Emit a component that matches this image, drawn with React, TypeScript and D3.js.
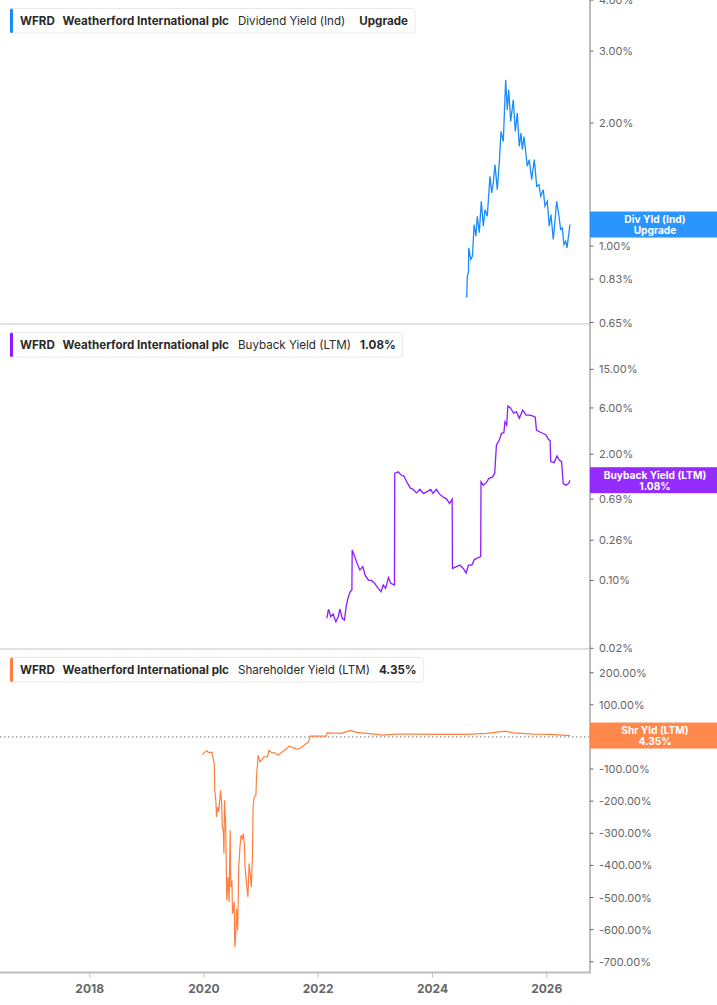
import React, { useLayoutEffect, useRef, useState } from "react";
import * as d3 from "d3";

// ---------- DATA ----------
const yearTicks = [2018, 2020, 2022, 2024, 2026];

const divDates = [2024.60, 2024.61, 2024.63, 2024.635, 2024.67, 2024.70, 2024.73, 2024.76, 2024.785, 2024.82, 2024.855, 2024.89, 2024.92, 2024.96, 2025.007, 2025.037, 2025.065, 2025.095, 2025.135, 2025.17, 2025.20, 2025.24, 2025.282, 2025.31, 2025.335, 2025.37, 2025.415, 2025.45, 2025.485, 2025.52, 2025.55, 2025.573, 2025.603, 2025.66, 2025.695, 2025.737, 2025.783, 2025.825, 2025.865, 2025.895, 2025.94, 2025.97, 2026.01, 2026.045, 2026.075, 2026.115, 2026.175, 2026.215, 2026.245, 2026.273, 2026.302, 2026.332, 2026.355, 2026.385, 2026.407];
const divValues = [0.748, 0.844, 0.861, 0.990, 0.927, 0.945, 1.129, 1.057, 1.183, 1.078, 1.287, 1.118, 1.228, 1.183, 1.481, 1.349, 1.427, 1.582, 1.374, 1.597, 1.907, 1.802, 2.550, 2.154, 2.410, 2.017, 2.279, 1.907, 2.115, 1.753, 1.890, 1.721, 1.854, 1.567, 1.627, 1.454, 1.627, 1.400, 1.413, 1.324, 1.374, 1.251, 1.287, 1.118, 1.194, 1.038, 1.287, 1.183, 1.098, 1.108, 1.009, 1.028, 0.990, 1.067, 1.129];

const bbDates = [2022.15, 2022.18, 2022.22, 2022.26, 2022.31, 2022.35, 2022.38, 2022.42, 2022.46, 2022.49, 2022.52, 2022.56, 2022.59, 2022.595, 2022.64, 2022.68, 2022.73, 2022.78, 2022.82, 2022.88, 2022.94, 2022.99, 2023.05, 2023.10, 2023.14, 2023.18, 2023.23, 2023.27, 2023.335, 2023.34, 2023.40, 2023.45, 2023.50, 2023.55, 2023.61, 2023.66, 2023.72, 2023.78, 2023.84, 2023.90, 2023.97, 2024.01, 2024.07, 2024.12, 2024.18, 2024.25, 2024.30, 2024.345, 2024.35, 2024.42, 2024.48, 2024.54, 2024.59, 2024.63, 2024.69, 2024.73, 2024.77, 2024.845, 2024.85, 2024.89, 2024.94, 2024.99, 2025.05, 2025.09, 2025.12, 2025.17, 2025.21, 2025.25, 2025.27, 2025.30, 2025.32, 2025.37, 2025.42, 2025.47, 2025.52, 2025.58, 2025.64, 2025.70, 2025.75, 2025.80, 2025.82, 2025.87, 2025.93, 2025.99, 2026.03, 2026.06, 2026.07, 2026.13, 2026.18, 2026.22, 2026.26, 2026.29, 2026.34, 2026.38, 2026.41];
const bbValues = [0.0408, 0.0505, 0.0423, 0.0451, 0.0376, 0.0423, 0.0505, 0.0408, 0.0391, 0.0537, 0.0655, 0.0766, 0.0798, 0.206, 0.176, 0.150, 0.128, 0.139, 0.114, 0.101, 0.0995, 0.0935, 0.083, 0.0766, 0.0898, 0.083, 0.107, 0.0935, 0.0898, 1.27, 1.32, 1.22, 1.19, 1.04, 0.90, 0.87, 0.80, 0.87, 0.79, 0.82, 0.87, 0.79, 0.87, 0.78, 0.73, 0.69, 0.62, 0.69, 0.133, 0.139, 0.144, 0.133, 0.119, 0.144, 0.144, 0.163, 0.169, 0.176, 1.04, 0.96, 1.02, 1.13, 1.16, 1.27, 2.49, 2.80, 3.29, 3.33, 4.33, 4.00, 6.28, 5.95, 5.29, 5.49, 4.69, 5.71, 5.07, 5.07, 4.96, 4.81, 3.55, 3.41, 3.29, 3.16, 2.85, 2.76, 1.68, 1.64, 1.92, 1.74, 1.68, 0.99, 0.96, 1.00, 1.08];

const shDates = [2019.97, 2020.00, 2020.05, 2020.08, 2020.14, 2020.16, 2020.18, 2020.19, 2020.21, 2020.22, 2020.24, 2020.26, 2020.29, 2020.31, 2020.32, 2020.34, 2020.35, 2020.36, 2020.38, 2020.40, 2020.42, 2020.44, 2020.46, 2020.47, 2020.49, 2020.50, 2020.53, 2020.54, 2020.56, 2020.57, 2020.59, 2020.61, 2020.63, 2020.65, 2020.67, 2020.69, 2020.71, 2020.72, 2020.75, 2020.77, 2020.79, 2020.81, 2020.83, 2020.85, 2020.86, 2020.88, 2020.91, 2020.92, 2020.95, 2020.98, 2021.01, 2021.05, 2021.11, 2021.14, 2021.19, 2021.24, 2021.30, 2021.36, 2021.45, 2021.49, 2021.56, 2021.62, 2021.68, 2021.76, 2021.83, 2021.86, 2022.14, 2022.16, 2022.41, 2022.56, 2022.67, 2022.85, 2023.14, 2023.37, 2023.72, 2024.01, 2024.60, 2024.95, 2025.27, 2025.42, 2025.77, 2026.06, 2026.41];
const shValues = [-54.6, -49.6, -43.3, -48.3, -48.3, -67.0, -82.6, -165.9, -202.4, -249.1, -218.0, -233.6, -165.9, -207.4, -275.0, -295.9, -363.3, -197.1, -269.7, -508.9, -436.2, -514.2, -290.6, -467.4, -446.5, -550.4, -514.2, -654.5, -602.4, -534.8, -602.4, -405.1, -342.7, -306.2, -316.5, -300.9, -342.7, -405.1, -467.4, -498.6, -394.4, -425.6, -467.4, -363.3, -218.0, -186.8, -181.5, -124.4, -56.8, -77.6, -72.3, -62.1, -62.1, -41.2, -49.6, -49.6, -56.8, -48.3, -35.9, -28.7, -32.7, -38.0, -35.9, -25.0, -15.3, 2.5, 2.5, 12.8, 10.9, 20.3, 14.0, 10.9, 5.6, 8.7, 8.7, 7.8, 7.8, 10.9, 18.1, 12.8, 8.7, 7.8, 4.35];

const divTicks = [4, 3, 2, 1, 0.83, 0.65];
const bbTicks = [15, 6, 2, 0.69, 0.26, 0.1, 0.02];
const shTicks = [200, 100, 0, -100, -200, -300, -400, -500, -600, -700];

// ---------- LAYOUT ----------
const W = 717;
const H = 1005;
const PR = 590;
const P1 = [0, 324];
const P2 = [324, 649];
const P3 = [649, 972.5];

const BLUE = "#1a8cff";
const PURPLE = "#8c1cff";
const ORANGE = "#ff7f40";
const FONT = "Inter, 'Noto Sans', sans-serif";

const x = d3.scaleLinear().domain([2016.43, 2026.758]).range([0, PR]);
const y1 = d3.scaleLog().domain([4, 0.6446]).range([P1[0], P1[1]]);
const y2 = d3.scaleLog().domain([43.98, 0.01967]).range([P2[0], P2[1]]);
const y3 = d3.scaleLinear().domain([273.8, -733.4]).range([P3[0], P3[1]]);

const fmt = (v: number) => v.toFixed(2) + "%";

type Part = { text: string; bold: boolean; gap: number };

function Legend({ top, color, parts }: { top: number; color: string; parts: Part[] }) {
  const ref = useRef<SVGTextElement>(null);
  const [w, setW] = useState(400);
  useLayoutEffect(() => {
    if (ref.current) {
      const b = ref.current.getBBox();
      setW(b.x + b.width - 10 + 7);
    }
  }, []);
  return (
    <g>
      <rect x={10} y={top + 8.5} width={w} height={24.5} rx={3} fill="#fff" stroke="#e8e8e8" />
      <rect x={10} y={top + 8.5} width={3} height={24.5} rx={1.5} fill={color} />
      <text ref={ref} x={20} y={top + 25} fontSize={11.6} fill="#2a2a2a" fontFamily={FONT}>
        {parts.map((p, i) => (
          <tspan key={i} dx={i === 0 ? 0 : p.gap} fontWeight={p.bold ? 700 : 400}>
            {p.text}
          </tspan>
        ))}
      </text>
    </g>
  );
}

function Badge({ cy, color, lines }: { cy: number; color: string; lines: string[] }) {
  return (
    <g>
      <rect x={PR} y={cy - 13} width={W - PR} height={26} fill={color} fillOpacity={0.93} />
      <text x={655} y={cy - 5.6} fontSize={10.2} fontWeight={700} fill="#fff" textAnchor="middle" dominantBaseline="central" fontFamily={FONT}>
        {lines[0]}
      </text>
      <text x={655} y={cy + 5.6} fontSize={10.2} fontWeight={700} fill="#fff" textAnchor="middle" dominantBaseline="central" fontFamily={FONT}>
        {lines[1]}
      </text>
    </g>
  );
}

function YTicks({ ticks, scale, faded }: { ticks: number[]; scale: (v: number) => number; faded?: number }) {
  return (
    <g>
      {ticks.map((t) => (
        <g key={t}>
          <line x1={PR} x2={PR + 3.5} y1={scale(t)} y2={scale(t)} stroke="#666" strokeWidth={1} />
          <text x={599} y={scale(t)} fontSize={11} fill={t === faded ? "#999" : "#666"} dominantBaseline="central" fontFamily={FONT}>
            {fmt(t)}
          </text>
        </g>
      ))}
    </g>
  );
}

export default function App() {
  const line1 = d3.line<number>().x((_, i) => x(divDates[i])).y((d) => y1(d));
  const line2 = d3.line<number>().x((_, i) => x(bbDates[i])).y((d) => y2(d));
  const line3 = d3.line<number>().x((_, i) => x(shDates[i])).y((d) => y3(d));

  const lastDiv = divValues[divValues.length - 1];
  const lastBb = bbValues[bbValues.length - 1];
  const lastSh = shValues[shValues.length - 1];

  return (
    <svg width={W} height={H} style={{ position: "absolute", left: 0, top: 0, background: "#fff" }} fontFamily={FONT}>
      <defs>
        <clipPath id="c1"><rect x={0} y={P1[0]} width={PR} height={P1[1] - P1[0]} /></clipPath>
        <clipPath id="c2"><rect x={0} y={P2[0]} width={PR} height={P2[1] - P2[0]} /></clipPath>
        <clipPath id="c3"><rect x={0} y={P3[0]} width={PR} height={P3[1] - P3[0]} /></clipPath>
      </defs>
      <rect x={0} y={0} width={W} height={H} fill="#fff" />

      {/* zero line panel 3 */}
      <line x1={0} x2={PR} y1={y3(0)} y2={y3(0)} stroke="#777" strokeWidth={1} strokeDasharray="1.5,2.5" />

      {/* series */}
      <path d={line1(divValues) || ""} fill="none" stroke={BLUE} strokeWidth={1.3} clipPath="url(#c1)" />
      <path d={line2(bbValues) || ""} fill="none" stroke={PURPLE} strokeWidth={1.3} clipPath="url(#c2)" />
      <path d={line3(shValues) || ""} fill="none" stroke={ORANGE} strokeWidth={1.2} clipPath="url(#c3)" />

      {/* dividers */}
      <line x1={0} x2={PR} y1={P1[1]} y2={P1[1]} stroke="#c4c4c4" strokeWidth={1.2} />
      <line x1={0} x2={PR} y1={P2[1]} y2={P2[1]} stroke="#c4c4c4" strokeWidth={1.2} />

      {/* axes */}
      <line x1={PR} x2={PR} y1={0} y2={P3[1]} stroke="#bdbdbd" strokeWidth={2} />
      <line x1={0} x2={PR + 1} y1={P3[1]} y2={P3[1]} stroke="#bdbdbd" strokeWidth={2} />
      {yearTicks.map((yr) => (
        <g key={yr}>
          <line x1={x(yr)} x2={x(yr)} y1={P3[1]} y2={P3[1] + 5} stroke="#bdbdbd" strokeWidth={1} />
          <text x={x(yr)} y={988} fontSize={12} fontWeight={700} fill="#666" textAnchor="middle" dominantBaseline="central" fontFamily={FONT}>
            {yr}
          </text>
        </g>
      ))}

      <YTicks ticks={divTicks} scale={y1} />
      <YTicks ticks={bbTicks} scale={y2} />
      <YTicks ticks={shTicks} scale={y3} faded={0} />

      <Badge cy={y1(lastDiv)} color={BLUE} lines={["Div Yld (Ind)", "Upgrade"]} />
      <Badge cy={y2(lastBb)} color={PURPLE} lines={["Buyback Yield (LTM)", fmt(lastBb)]} />
      <Badge cy={y3(lastSh)} color={ORANGE} lines={["Shr Yld (LTM)", fmt(lastSh)]} />

      <Legend
        top={P1[0]}
        color={BLUE}
        parts={[
          { text: "WFRD", bold: true, gap: 0 },
          { text: "Weatherford International plc", bold: true, gap: 8 },
          { text: "Dividend Yield (Ind)", bold: false, gap: 9 },
          { text: "Upgrade", bold: true, gap: 14 },
        ]}
      />
      <Legend
        top={P2[0]}
        color={PURPLE}
        parts={[
          { text: "WFRD", bold: true, gap: 0 },
          { text: "Weatherford International plc", bold: true, gap: 8 },
          { text: "Buyback Yield (LTM)", bold: false, gap: 9 },
          { text: fmt(lastBb), bold: true, gap: 9 },
        ]}
      />
      <Legend
        top={P3[0]}
        color={ORANGE}
        parts={[
          { text: "WFRD", bold: true, gap: 0 },
          { text: "Weatherford International plc", bold: true, gap: 8 },
          { text: "Shareholder Yield (LTM)", bold: false, gap: 9 },
          { text: fmt(lastSh), bold: true, gap: 9 },
        ]}
      />
    </svg>
  );
}
